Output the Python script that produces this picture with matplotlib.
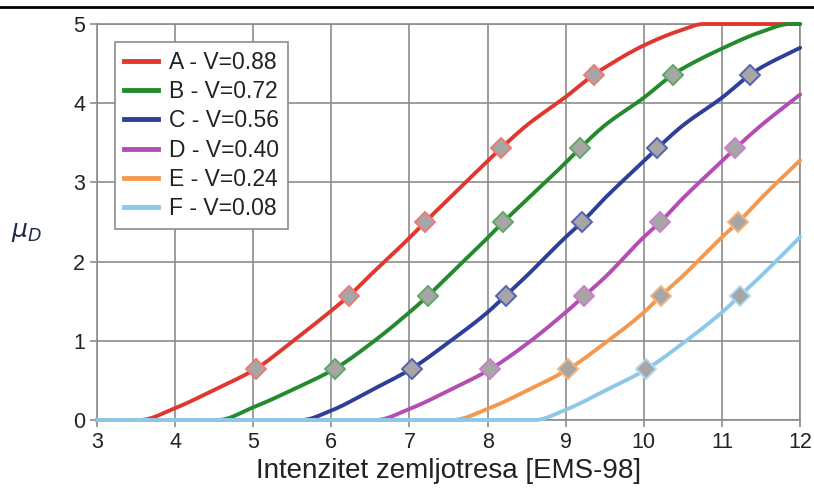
import matplotlib
matplotlib.use("Agg")
import matplotlib.pyplot as plt
from matplotlib.lines import Line2D
import numpy as np

plt.rcParams['font.family'] = ['Liberation Sans', 'DejaVu Sans']

labels = ["A - V=0.88", "B - V=0.72", "C - V=0.56", "D - V=0.40", "E - V=0.24", "F - V=0.08"]
colors = ["#e0382e", "#238a2d", "#2d3f98", "#b44db3", "#f3994f", "#8ec8e8"]
edge_colors = ["#f07a72", "#5ea866", "#5563b0", "#cc80cb", "#f6b47c", "#b0daf0"]

a_x = [3, 3.55, 4, 4.5, 5.04, 5.5, 6, 6.23, 6.5, 7, 7.2, 7.5, 8, 8.17, 8.5, 9, 9.36, 9.5, 10, 10.5, 10.76, 12]
a_y = [0, 0, 0.15, 0.38, 0.65, 0.99, 1.38, 1.57, 1.83, 2.3, 2.5, 2.79, 3.27, 3.43, 3.72, 4.08, 4.36, 4.45, 4.73, 4.93, 5, 5]
b_x = [3, 4.55, 5, 5.5, 6.05, 6.5, 7, 7.24, 7.5, 8, 8.2, 8.5, 9, 9.18, 9.5, 10, 10.37, 10.5, 11, 11.5, 11.87, 12]
b_y = [0, 0, 0.16, 0.38, 0.65, 0.96, 1.36, 1.57, 1.82, 2.3, 2.5, 2.78, 3.25, 3.43, 3.72, 4.07, 4.36, 4.44, 4.69, 4.9, 5, 5]
c_x = [3, 5.62, 6, 6.5, 7.03, 7.5, 8, 8.23, 8.5, 9, 9.21, 9.5, 10, 10.17, 10.5, 11, 11.36, 11.5, 12]
c_y = [0, 0, 0.12, 0.37, 0.65, 0.98, 1.36, 1.57, 1.82, 2.31, 2.5, 2.8, 3.27, 3.43, 3.72, 4.07, 4.36, 4.45, 4.7]
d_x = [3, 6.57, 7, 7.5, 8.03, 8.5, 9, 9.24, 9.5, 10, 10.2, 10.5, 11, 11.16, 11.5, 12]
d_y = [0, 0, 0.14, 0.37, 0.64, 0.96, 1.36, 1.57, 1.8, 2.31, 2.49, 2.8, 3.27, 3.42, 3.72, 4.11]
e_x = [3, 7.55, 8, 8.5, 9.03, 9.5, 10, 10.22, 10.5, 11, 11.2, 11.5, 12]
e_y = [0, 0, 0.14, 0.37, 0.64, 0.97, 1.36, 1.57, 1.82, 2.31, 2.49, 2.8, 3.28]
f_x = [3, 8.6, 9, 9.5, 10.03, 10.5, 11, 11.23, 11.5, 12]
f_y = [0, 0, 0.13, 0.37, 0.64, 0.97, 1.36, 1.57, 1.82, 2.31]

# marker points (grey diamonds)
a_mx = [5.04, 6.23, 7.2, 8.17, 9.36]
b_mx = [6.05, 7.24, 8.2, 9.18, 10.37]
c_mx = [7.03, 8.23, 9.21, 10.17, 11.36]
d_mx = [8.03, 9.24, 10.2, 11.16]
e_mx = [9.03, 10.22, 11.2]
f_mx = [10.03, 11.23]
marker_y = [0.65, 1.57, 2.5, 3.43, 4.36]

series = [(a_x, a_y, a_mx), (b_x, b_y, b_mx), (c_x, c_y, c_mx),
          (d_x, d_y, d_mx), (e_x, e_y, e_mx), (f_x, f_y, f_mx)]


def smooth(x, y, n=20):
    # monotone cubic (pchip) through the read points, like a smoothed line
    x = np.asarray(x, float)
    y = np.asarray(y, float)
    h = np.diff(x)
    d = np.diff(y) / h
    m = np.zeros_like(y)
    for i in range(1, len(x) - 1):
        if d[i - 1] * d[i] > 0:
            w1 = 2 * h[i] + h[i - 1]
            w2 = h[i] + 2 * h[i - 1]
            m[i] = (w1 + w2) / (w1 / d[i - 1] + w2 / d[i])
    m[0] = d[0]
    m[-1] = d[-1]
    xs, ys = [], []
    for i in range(len(x) - 1):
        t = np.linspace(0, 1, n, endpoint=False)
        h00 = 2 * t**3 - 3 * t**2 + 1
        h10 = t**3 - 2 * t**2 + t
        h01 = -2 * t**3 + 3 * t**2
        h11 = t**3 - t**2
        xs.append(x[i] + t * h[i])
        ys.append(h00 * y[i] + h10 * h[i] * m[i] + h01 * y[i + 1] + h11 * h[i] * m[i + 1])
    xs.append([x[-1]])
    ys.append([y[-1]])
    return np.concatenate(xs), np.concatenate(ys)


fig = plt.figure(figsize=(8.14, 4.95), dpi=100)
ax = fig.add_axes([0.119, 0.1515, 0.864, 0.80])

for (x, y, mx), col, ecol, lab in zip(series, colors, edge_colors, labels):
    sx, sy = smooth(x, y)
    ax.plot(sx, sy, color=col, linewidth=2.8, solid_capstyle='round', label=lab, clip_on=False, zorder=3)
    ax.plot(mx, marker_y[:len(mx)], linestyle='none', marker='D', markersize=10.5,
            markerfacecolor='#a6a6a6', markeredgecolor=ecol, markeredgewidth=1.4, clip_on=False, zorder=4)

ax.set_xlim(3, 12)
ax.set_ylim(0, 5)
ax.set_xticks(range(3, 13))
ax.set_yticks(range(0, 6))
ax.grid(True, color='#8c8c8c', linewidth=1.2)
ax.set_axisbelow(True)
for s in ax.spines.values():
    s.set_color('#8c8c8c')
    s.set_linewidth(1.2)
ax.tick_params(colors='#8c8c8c', labelcolor='#222222', labelsize=15.5, length=5, width=1.2)

ax.set_xlabel("Intenzitet zemljotresa [EMS-98]", fontsize=20, color='#222222', labelpad=4)
fig.text(0.014, 0.532, r"$\mu_D$", fontsize=18, color='#1f2a4a', va='center')

handles = [Line2D([0], [0], color=c, linewidth=3.5) for c in colors]
leg = ax.legend(handles, labels, loc='upper left', bbox_to_anchor=(0.026, 0.955), borderaxespad=0,
                fontsize=16.5, frameon=True, fancybox=False, edgecolor='#8c8c8c', framealpha=1,
                handlelength=1.45, handletextpad=0.5, labelspacing=0.27, borderpad=0.4)
leg.get_frame().set_linewidth(1.2)
for t in leg.get_texts():
    t.set_color('#222222')

fig.add_artist(Line2D([0, 1], [0.985, 0.985], color='black', linewidth=2, transform=fig.transFigure))

fig.savefig("out.png", dpi=100)
